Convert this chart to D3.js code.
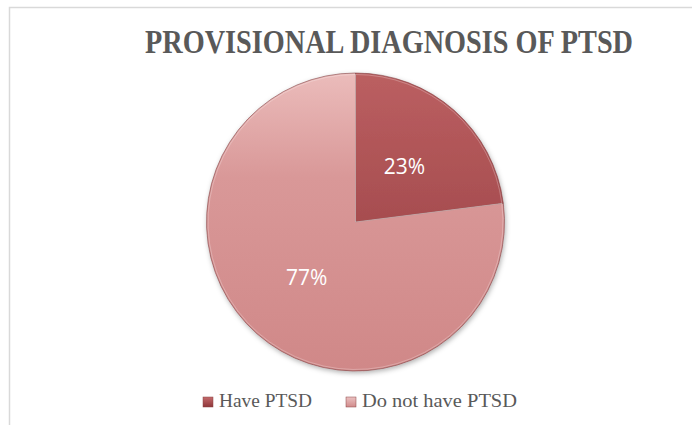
<!DOCTYPE html>
<html><head><meta charset="utf-8">
<script src="https://cdn.jsdelivr.net/npm/d3@7"></script>
<style>html,body{margin:0;padding:0;background:#fff;}svg{display:block;}</style>
</head><body>
<svg id="chart" width="692" height="425"></svg>
<script>
const categories = ["Have PTSD", "Do not have PTSD"];
const values = [23, 77];
const labels = ["23%", "77%"];
const title = "PROVISIONAL DIAGNOSIS OF PTSD";

const svg = d3.select("#chart");
const W = 692, H = 425;
const cx = 355.5, cy = 222, R = 149;

const defs = svg.append("defs");
const grads = [
  {id: "g0", stops: [["0%", "#bb5f61"], ["100%", "#923b3e"]]},
  {id: "g1", stops: [["0%", "#ebbcbb"], ["35%", "#d99898"], ["100%", "#d08888"]]}
];
grads.forEach(g => {
  const lg = defs.append("linearGradient").attr("id", g.id)
    .attr("gradientUnits", "userSpaceOnUse")
    .attr("x1", 0).attr("y1", -R).attr("x2", 0).attr("y2", R);
  g.stops.forEach(s => lg.append("stop").attr("offset", s[0]).attr("stop-color", s[1]));
});
const lgl = [
  {id: "lg0", c: ["#c46a6c", "#8e3639"]},
  {id: "lg1", c: ["#ebc2c2", "#d18b8b"]}
];
lgl.forEach(g => {
  const lg = defs.append("linearGradient").attr("id", g.id).attr("x1", 0).attr("y1", 0).attr("x2", 0).attr("y2", 1);
  lg.append("stop").attr("offset", "0%").attr("stop-color", g.c[0]);
  lg.append("stop").attr("offset", "100%").attr("stop-color", g.c[1]);
});
const f = defs.append("filter").attr("id", "sh").attr("x", "-20%").attr("y", "-20%").attr("width", "140%").attr("height", "140%");
f.append("feDropShadow").attr("dx", 1).attr("dy", 2).attr("stdDeviation", 2.5)
  .attr("flood-color", "#000").attr("flood-opacity", 0.3);

// outer border
svg.append("rect").attr("x", 9.5).attr("y", 7.5).attr("width", W + 20).attr("height", H + 20)
  .attr("fill", "none").attr("stroke", "#d9d9d9").attr("stroke-width", 1.5);

// title
svg.append("text").attr("x", 389).attr("y", 53).attr("text-anchor", "middle")
  .attr("font-family", "'Liberation Serif', 'DejaVu Serif', serif").attr("font-weight", "bold")
  .attr("font-size", 33).attr("fill", "#595959")
  .attr("textLength", 488).attr("lengthAdjust", "spacingAndGlyphs")
  .text(title);

const pie = d3.pie().sort(null).value(d => d).startAngle(0).endAngle(2 * Math.PI);
const arcs = pie(values);
const arc = d3.arc().innerRadius(0).outerRadius(R);
const labelArc = d3.arc().innerRadius(74).outerRadius(74);

const g = svg.append("g").attr("transform", `translate(${cx},${cy})`);
const gs = g.append("g").attr("filter", "url(#sh)");
gs.selectAll("path").data(arcs).join("path")
  .attr("d", arc)
  .attr("fill", (d, i) => `url(#${grads[i].id})`)
  .attr("stroke", "#7a3a3b").attr("stroke-width", 0.8).attr("stroke-opacity", 0.7);
g.selectAll("path.hl").data(arcs).join("path").attr("class", "hl")
  .attr("d", d3.arc().innerRadius(0).outerRadius(R - 1.5))
  .attr("fill", "none").attr("stroke", "#fff").attr("stroke-opacity", 0.25).attr("stroke-width", 1);

g.selectAll("text.lbl").data(arcs).join("text").attr("class", "lbl")
  .attr("x", d => labelArc.centroid(d)[0])
  .attr("y", d => labelArc.centroid(d)[1])
  .attr("dy", "0.36em")
  .attr("text-anchor", "middle")
  .attr("font-family", "'Open Sans', Lato, sans-serif")
  .attr("font-size", 21).attr("fill", "#fff")
  .text((d, i) => labels[i]);

// legend
const leg = svg.append("g").attr("font-family", "'Liberation Serif', 'DejaVu Serif', serif")
  .attr("font-size", 19).attr("fill", "#595959");
const legX = [203, 346];
const legW = [93, 155];
categories.forEach((c, i) => {
  leg.append("rect").attr("x", legX[i]).attr("y", 397).attr("width", 10).attr("height", 10)
    .attr("fill", `url(#${lgl[i].id})`).attr("stroke", "#8a4446").attr("stroke-width", 0.5);
  leg.append("text").attr("x", legX[i] + 16).attr("y", 407)
    .attr("textLength", legW[i]).attr("lengthAdjust", "spacingAndGlyphs").text(c);
});
</script>
</body></html>
